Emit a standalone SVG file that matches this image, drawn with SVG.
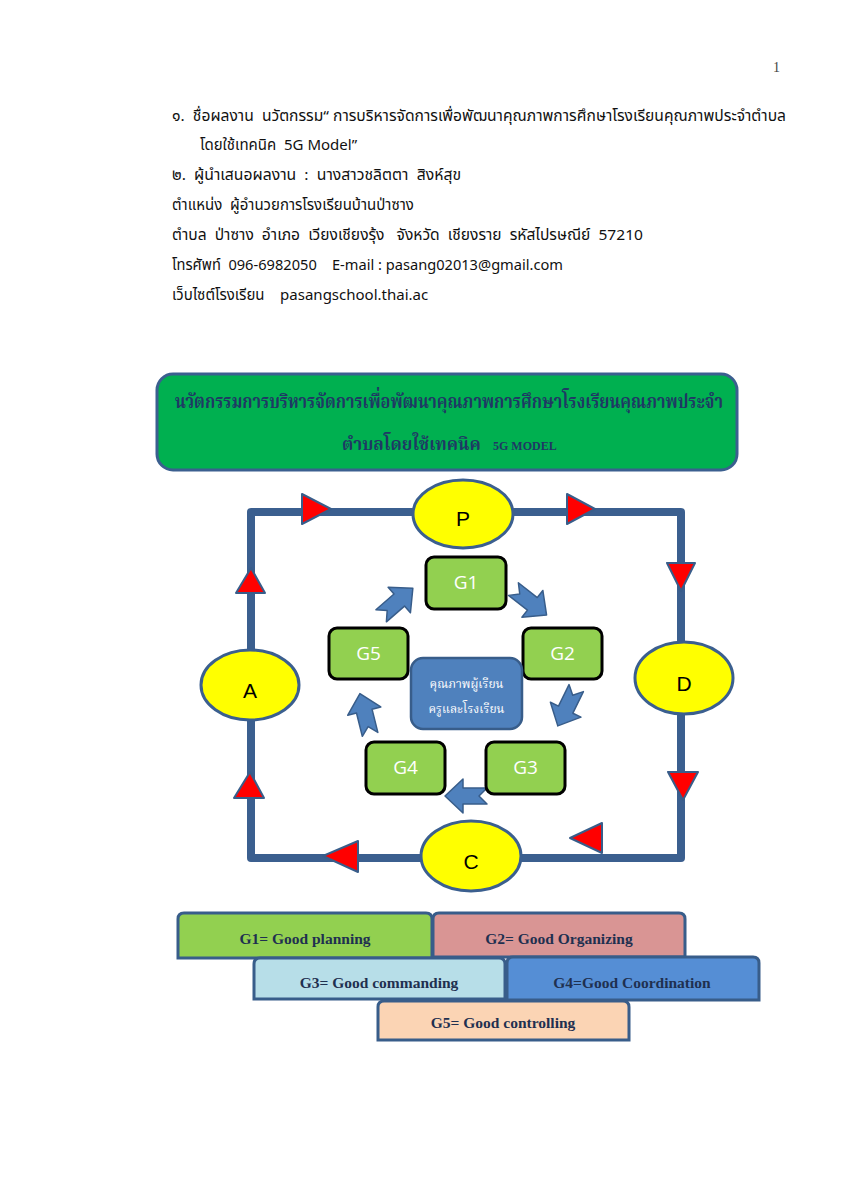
<svg xmlns="http://www.w3.org/2000/svg" width="849" height="1200" viewBox="0 0 849 1200">
<style>
.body{font-family:"Noto Sans Thai","Noto Sans","DejaVu Sans",sans-serif;font-size:15px;fill:#111}
.head{font-family:"Noto Serif Thai","Liberation Serif","DejaVu Serif",serif;font-size:20px;font-weight:bold;fill:#1F3864}
.head2{font-family:"Noto Serif Thai","Liberation Serif","DejaVu Serif",serif;font-size:17px;font-weight:bold;fill:#1F3864}
.frame{fill:none;stroke:#3B5F8F;stroke-width:8;stroke-linejoin:round}
.tri{fill:#FF0000;stroke:#385D8A;stroke-width:2;stroke-linejoin:round}
.ell{fill:#FFFF00;stroke:#3B5F8F;stroke-width:3}
.elt{font-family:"Liberation Sans",Arial,sans-serif;font-size:21px;fill:#000;text-anchor:middle}
.g{fill:#92D050;stroke:#000;stroke-width:3}
.gt{font-family:"Open Sans","Liberation Sans",sans-serif;font-size:19px;fill:#fff;text-anchor:middle}
.barr{fill:#4F81BD;stroke:#385D8A;stroke-width:1.5;stroke-linejoin:round}
.leg{stroke:#385D8A;stroke-width:3}
.lt{font-family:"Liberation Serif","Times New Roman",serif;font-size:15.5px;font-weight:bold;fill:#1F3050;text-anchor:middle}
.ct{font-family:"Noto Serif Thai","Noto Sans Thai",serif;font-size:12px;fill:#fff;text-anchor:middle}
.model{font-family:"Liberation Serif",serif;font-size:12px;font-weight:bold;fill:#1F3864}
</style>
<defs>
<path id="notch" d="M-21,-8 L3,-8 L3,-17 L21,0 L3,17 L3,8 L-21,8 L-13,0 Z"/>
</defs>
<rect width="849" height="1200" fill="#fff"/>
<text x="780" y="72" font-family="Liberation Serif,serif" font-size="14" fill="#444" text-anchor="end">1</text>
<g id="intro" class="body">
<text x="172" y="121" textLength="614" lengthAdjust="spacingAndGlyphs">๑.&#160; ชื่อผลงาน&#160; นวัตกรรม“ การบริหารจัดการเพื่อพัฒนาคุณภาพการศึกษาโรงเรียนคุณภาพประจำตำบล</text>
<text x="200" y="150">โดยใช้เทคนิค&#160; 5G Model”</text>
<text x="172" y="180" textLength="289" lengthAdjust="spacingAndGlyphs">๒.&#160; ผู้นำเสนอผลงาน&#160; :&#160; นางสาวชลิตตา&#160; สิงห์สุข</text>
<text x="172" y="210">ตำแหน่ง&#160; ผู้อำนวยการโรงเรียนบ้านป่าซาง</text>
<text x="172" y="240" textLength="471" lengthAdjust="spacingAndGlyphs">ตำบล&#160; ป่าซาง&#160; อำเภอ&#160; เวียงเชียงรุ้ง&#160;&#160; จังหวัด&#160; เชียงราย&#160; รหัสไปรษณีย์&#160; 57210</text>
<text x="172" y="270" textLength="391" lengthAdjust="spacingAndGlyphs">โทรศัพท์&#160; 096-6982050&#160;&#160;&#160; E-mail : pasang02013@gmail.com</text>
<text x="172" y="300">เว็บไซต์โรงเรียน&#160;&#160;&#160; pasangschool.thai.ac</text>
</g>
<g id="title">
<rect x="157" y="374" width="580" height="96" rx="16" fill="#00B050" stroke="#3B5F8F" stroke-width="3"/>
<text class="head" x="175" y="408" textLength="548" lengthAdjust="spacingAndGlyphs">นวัตกรรมการบริหารจัดการเพื่อพัฒนาคุณภาพการศึกษาโรงเรียนคุณภาพประจำ</text>
<text class="head2" x="342" y="450">ตำบลโดยใช้เทคนิค</text>
<text class="model" x="493" y="450">5G MODEL</text>
</g>
<g id="connectors">
<rect class="frame" x="251" y="512" width="430" height="346"/>
<polygon class="tri" points="302,494 331,509 302,524"/>
<polygon class="tri" points="567,494 595,509 567,524"/>
<polygon class="tri" points="667,563 695,563 681,591"/>
<polygon class="tri" points="236,593 265,593 251,568"/>
<polygon class="tri" points="668,772 698,772 683,800"/>
<polygon class="tri" points="234,798 264,798 250,772"/>
<polygon class="tri" points="358,841 358,872 323,856"/>
<polygon class="tri" points="602,823 602,853 570,838"/>
<use href="#notch" class="barr" transform="translate(530,602) rotate(38)"/>
<use href="#notch" class="barr" transform="translate(397,602) rotate(-41)"/>
<use href="#notch" class="barr" transform="translate(567,707) rotate(116)"/>
<use href="#notch" class="barr" transform="translate(466,796) rotate(180)"/>
<use href="#notch" class="barr" transform="translate(365,714) rotate(256)"/>
</g>
<g id="P"><ellipse class="ell" cx="463" cy="514" rx="50" ry="34"/><text class="elt" x="463" y="526">P</text></g>
<g id="D"><ellipse class="ell" cx="684" cy="678" rx="49" ry="36"/><text class="elt" x="684" y="691">D</text></g>
<g id="C"><ellipse class="ell" cx="471" cy="856" rx="50" ry="35"/><text class="elt" x="471" y="869">C</text></g>
<g id="A"><ellipse class="ell" cx="250" cy="685" rx="49" ry="35"/><text class="elt" x="250" y="698">A</text></g>
<g id="G1"><rect class="g" x="426" y="557" width="80" height="52" rx="8"/><text class="gt" x="466" y="589">G1</text></g>
<g id="G2"><rect class="g" x="523" y="628" width="79" height="51" rx="8"/><text class="gt" x="562.5" y="660">G2</text></g>
<g id="G3"><rect class="g" x="486" y="742" width="79" height="52" rx="8"/><text class="gt" x="525.5" y="774">G3</text></g>
<g id="G4"><rect class="g" x="366" y="742" width="79" height="52" rx="8"/><text class="gt" x="405.5" y="774">G4</text></g>
<g id="G5"><rect class="g" x="329" y="628" width="79" height="51" rx="8"/><text class="gt" x="368.5" y="660">G5</text></g>
<g id="center">
<rect x="411" y="658" width="111" height="71" rx="12" fill="#4F81BD" stroke="#385D8A" stroke-width="2.5"/>
<text class="ct" x="466.5" y="688">คุณภาพผู้เรียน</text>
<text class="ct" x="466.5" y="713">ครูและโรงเรียน</text>
</g>
<g id="legend">
<g id="L1"><path class="leg" fill="#92D050" d="M178,958 V919 Q178,913 184,913 H426 Q432,913 432,919 V958 Z"/><text class="lt" x="305" y="944">G1= Good planning</text></g>
<g id="L2"><path class="leg" fill="#D99594" d="M433,957 V919 Q433,913 439,913 H679 Q685,913 685,919 V957 Z"/><text class="lt" x="559" y="944">G2= Good Organizing</text></g>
<g id="L3"><path class="leg" fill="#B7DEE8" d="M254,999 V964 Q254,958 260,958 H499 Q505,958 505,964 V999 Z"/><text class="lt" x="379" y="988">G3= Good commanding</text></g>
<g id="L4"><path class="leg" fill="#558ED5" d="M507,1000 V963 Q507,957 513,957 H753 Q759,957 759,963 V1000 Z"/><text class="lt" x="632" y="988">G4=Good Coordination</text></g>
<g id="L5"><path class="leg" fill="#FBD4B4" d="M378,1040 V1007 Q378,1001 384,1001 H623 Q629,1001 629,1007 V1040 Z"/><text class="lt" x="503" y="1028">G5= Good controlling</text></g>
</g>
</svg>
